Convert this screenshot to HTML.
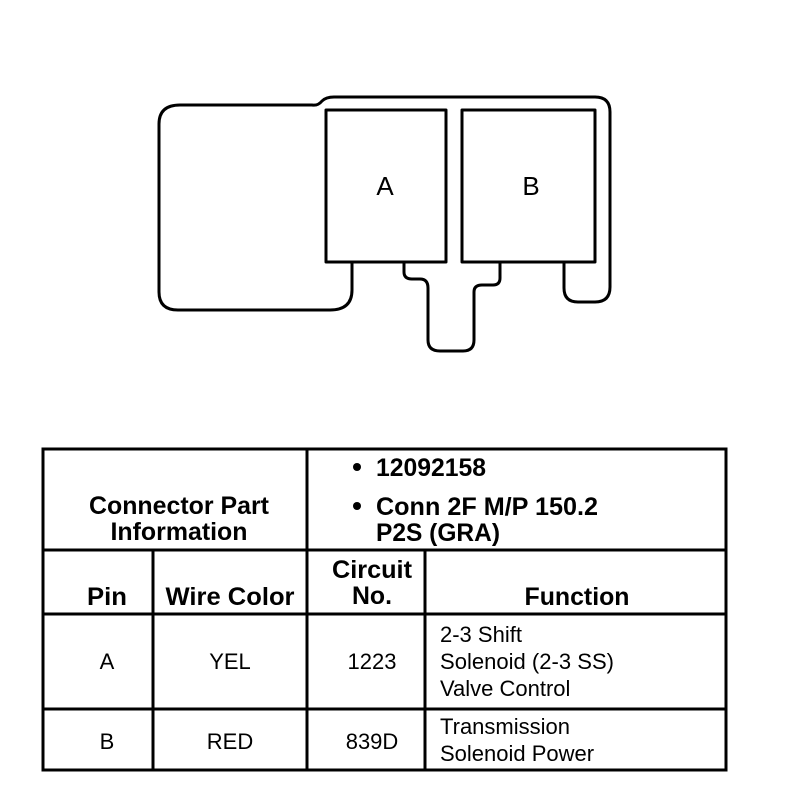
<!DOCTYPE html>
<html><head><style>
html,body{margin:0;padding:0;background:#fff;}
svg{display:block;}
text{font-family:"Liberation Sans",Arial,sans-serif;fill:#000;}
.b{font-weight:bold;font-size:25px;}
.n{font-size:22px;}
</style></head><body>
<svg width="800" height="794" viewBox="0 0 800 794" xmlns="http://www.w3.org/2000/svg">
<g fill="none" stroke="#000" stroke-width="3" stroke-linejoin="round">
<path d="M352,262 L352,290 Q352,310 330,310 L178,310 Q159,310 159,292 L159,124 Q159,105 180,105 L312,105 Q318,106 322,101 Q326,97 334,97 L595,97 Q610,97 610,112 L610,287 Q610,302 595,302 L578,302 Q564,302 564,288 L564,262"/>
<path d="M404,262 L404,272 Q404,279 412,279 L420,279 Q428,279 428,288 L428,340 Q428,351 440,351 L463,351 Q474,351 474,340 L474,292 Q474,285 482,285 L493,285 Q500,285 500,278 L500,262"/>
<rect x="326" y="110" width="120" height="152"/>
<rect x="462" y="110" width="133" height="152"/>
</g>
<text x="385" y="195" text-anchor="middle" font-size="26">A</text>
<text x="531" y="195" text-anchor="middle" font-size="26">B</text>
<g fill="none" stroke="#000" stroke-width="3">
<rect x="43" y="449" width="683" height="321"/>
<line x1="307" y1="449" x2="307" y2="770"/>
<line x1="43" y1="550" x2="726" y2="550"/>
<line x1="43" y1="614" x2="726" y2="614"/>
<line x1="43" y1="709" x2="726" y2="709"/>
<line x1="153" y1="550" x2="153" y2="770"/>
<line x1="425" y1="550" x2="425" y2="770"/>
</g>
<text x="179" y="514" class="b" text-anchor="middle" textLength="180" lengthAdjust="spacingAndGlyphs">Connector Part</text>
<text x="179" y="540" class="b" text-anchor="middle" textLength="137" lengthAdjust="spacingAndGlyphs">Information</text>
<circle cx="357" cy="467" r="4" fill="#000"/>
<text x="376" y="476" class="b" textLength="110" lengthAdjust="spacingAndGlyphs">12092158</text>
<circle cx="357" cy="506" r="4" fill="#000"/>
<text x="376" y="515" class="b" textLength="222" lengthAdjust="spacingAndGlyphs">Conn 2F M/P 150.2</text>
<text x="376" y="541" class="b" textLength="124" lengthAdjust="spacingAndGlyphs">P2S (GRA)</text>
<text x="107" y="605" class="b" text-anchor="middle" textLength="40" lengthAdjust="spacingAndGlyphs">Pin</text>
<text x="230" y="605" class="b" text-anchor="middle" textLength="129" lengthAdjust="spacingAndGlyphs">Wire Color</text>
<text x="372" y="578" class="b" text-anchor="middle" textLength="80" lengthAdjust="spacingAndGlyphs">Circuit</text>
<text x="372" y="604" class="b" text-anchor="middle" textLength="40" lengthAdjust="spacingAndGlyphs">No.</text>
<text x="577" y="605" class="b" text-anchor="middle" textLength="105" lengthAdjust="spacingAndGlyphs">Function</text>
<text x="107" y="669" class="n" text-anchor="middle">A</text>
<text x="230" y="669" class="n" text-anchor="middle">YEL</text>
<text x="372" y="669" class="n" text-anchor="middle">1223</text>
<text x="440" y="642" class="n">2-3 Shift</text>
<text x="440" y="669" class="n" textLength="174" lengthAdjust="spacingAndGlyphs">Solenoid (2-3 SS)</text>
<text x="440" y="696" class="n">Valve Control</text>
<text x="107" y="749" class="n" text-anchor="middle">B</text>
<text x="230" y="749" class="n" text-anchor="middle">RED</text>
<text x="372" y="749" class="n" text-anchor="middle">839D</text>
<text x="440" y="734" class="n">Transmission</text>
<text x="440" y="761" class="n">Solenoid Power</text>
</svg>
</body></html>
